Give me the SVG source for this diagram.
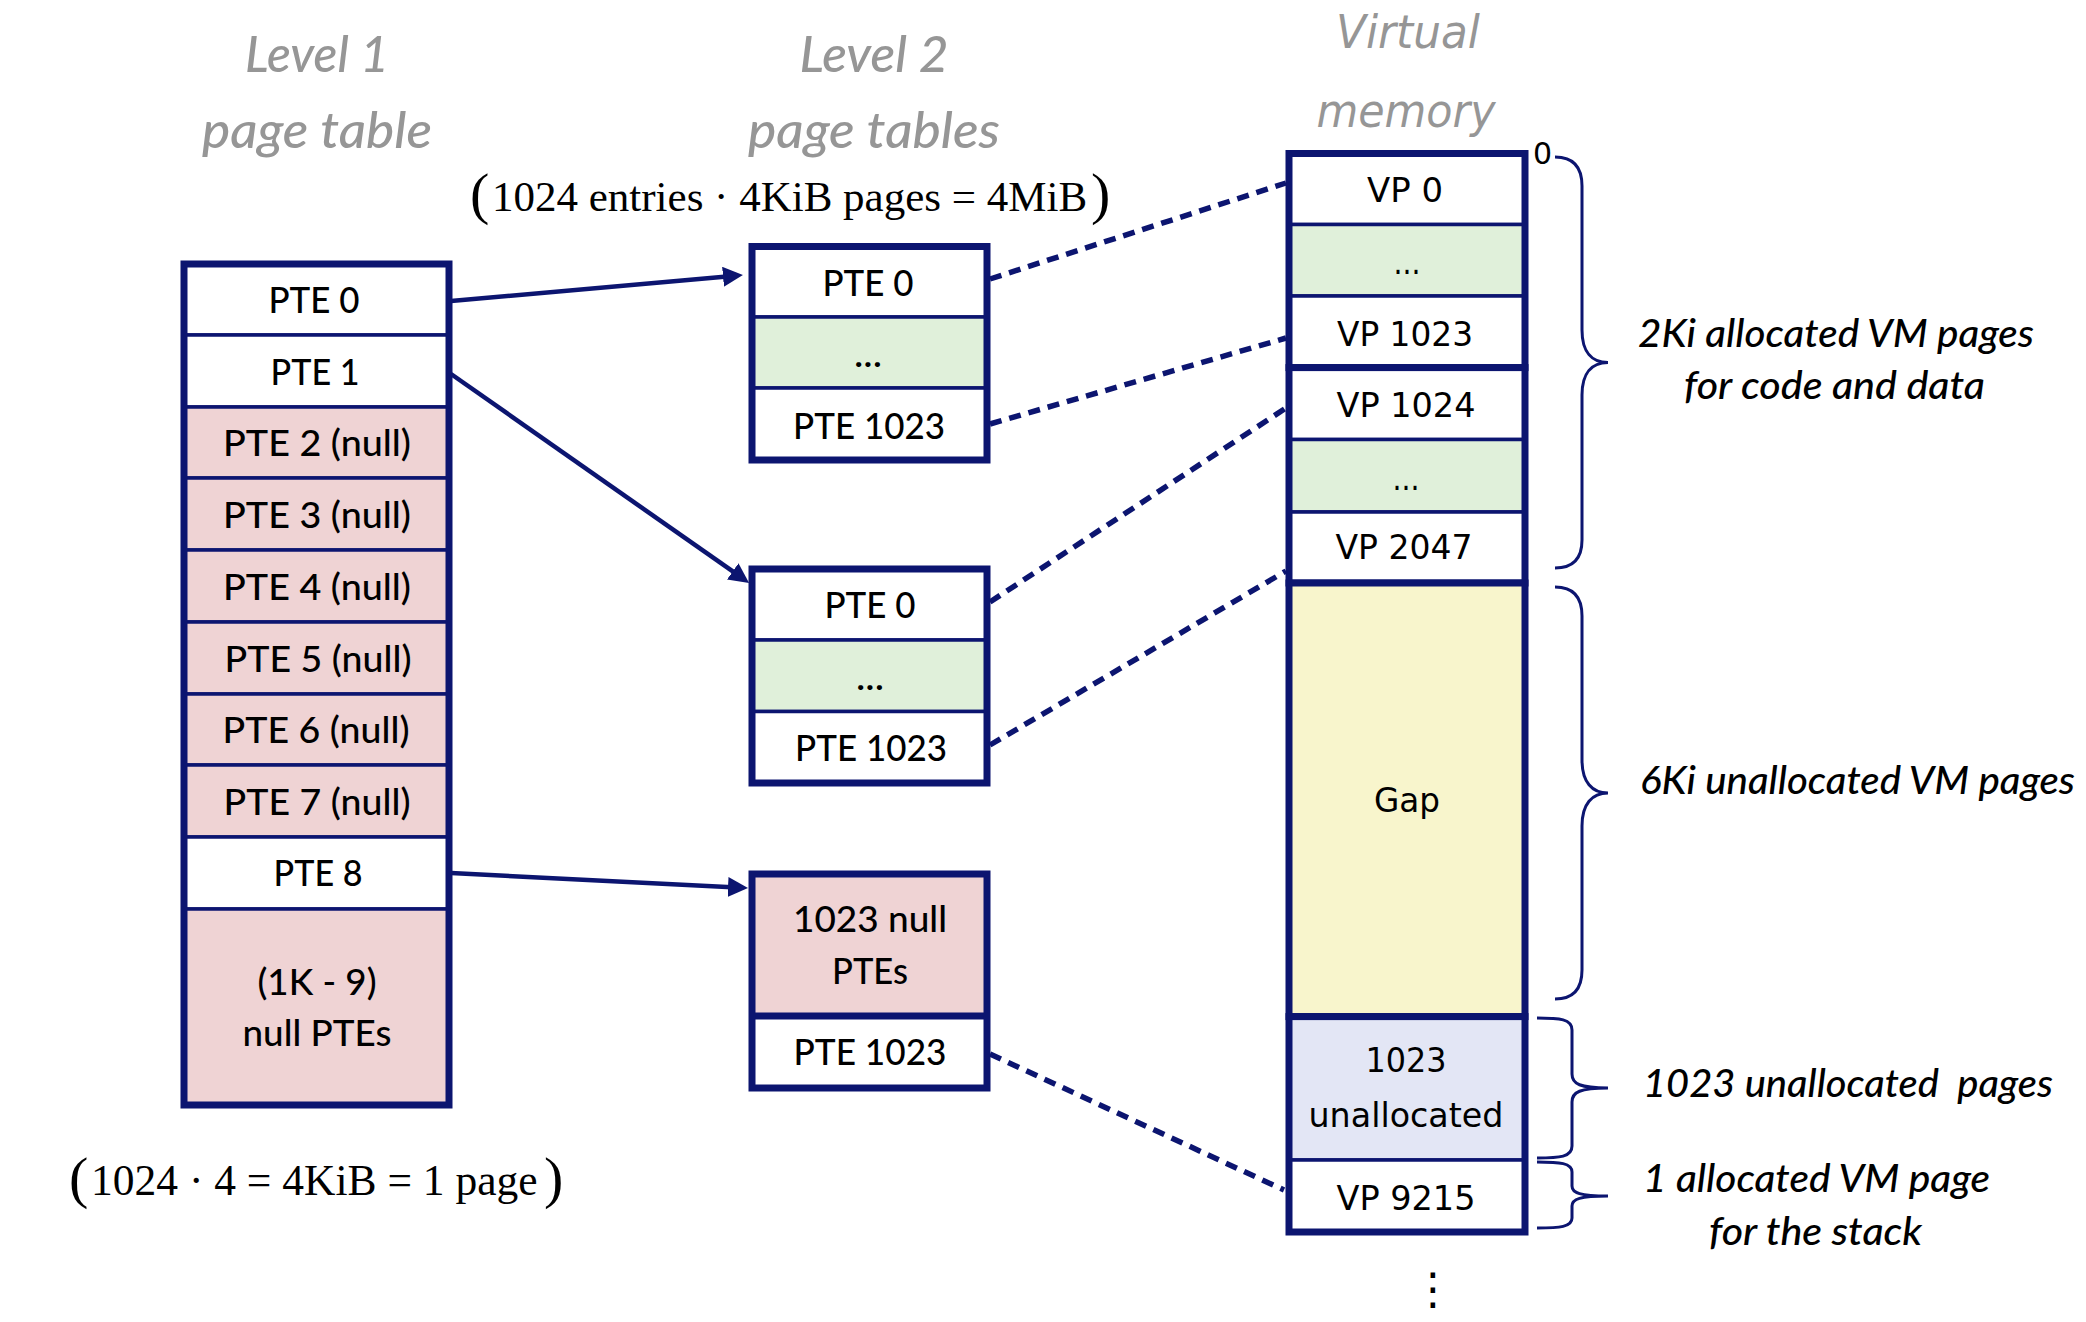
<svg xmlns="http://www.w3.org/2000/svg" width="2086" height="1322" viewBox="0 0 2086 1322">
<style>
.tb{fill:none;stroke:#0C1570;stroke-width:7}
.cell{stroke:#0C1570;stroke-width:3.5}
.w{fill:#FFFFFF}.p{fill:#EFD3D4}.g{fill:#E0F0DA}.y{fill:#F8F5CC}.l{fill:#E3E6F5}
.c{font-family:Lato,"Open Sans",sans-serif;font-weight:500;font-size:36px;text-anchor:middle;fill:#000}
.v{font-family:"DejaVu Sans",Verdana,sans-serif;font-size:34px;text-anchor:middle;fill:#000}
.t1{font-family:Lato,"Open Sans",sans-serif;font-weight:500;font-style:italic;font-size:50px;fill:#969696;text-anchor:middle}
.t2{font-family:"DejaVu Sans",Verdana,sans-serif;font-style:italic;font-size:46px;fill:#969696;text-anchor:middle}
.lab{font-family:Lato,"Open Sans",sans-serif;font-weight:500;font-style:italic;font-size:39px;fill:#000}
.m{font-family:"Liberation Serif","Times New Roman",serif;font-size:42.5px;fill:#000}
.pa{font-size:58px}
.br{fill:none;stroke:#0C1570;stroke-width:3}
.ar{stroke:#0C1570;stroke-width:4.5;fill:none}
.da{stroke:#0C1570;stroke-width:5.5;stroke-dasharray:12 8;fill:none}
</style>
<defs>
<marker id="ah" markerUnits="userSpaceOnUse" markerWidth="22" markerHeight="22" refX="4" refY="10" orient="auto">
<path d="M0,0 L20,10 L0,20 z" fill="#0C1570"/>
</marker>
</defs>

<g id="titles">
<text class="t1" x="317" y="72" textLength="144" lengthAdjust="spacingAndGlyphs">Level 1</text>
<text class="t1" x="317" y="148" textLength="230" lengthAdjust="spacingAndGlyphs">page table</text>
<text class="t1" x="874" y="72" textLength="149" lengthAdjust="spacingAndGlyphs">Level 2</text>
<text class="t1" x="874" y="148" textLength="252" lengthAdjust="spacingAndGlyphs">page tables</text>
<text class="t2" x="1408" y="48" textLength="144" lengthAdjust="spacingAndGlyphs">Virtual</text>
<text class="t2" x="1406" y="127" textLength="179" lengthAdjust="spacingAndGlyphs">memory</text>
</g>

<g id="formula-l2">
<text class="m" y="212"><tspan class="pa" x="470" y="213">(</tspan><tspan x="492" y="211" style="font-size:43px">1024 entries · 4KiB pages = 4MiB</tspan><tspan class="pa" x="1091" y="213">)</tspan></text>
</g>

<g id="formula-l1">
<text class="m" y="1196"><tspan class="pa" x="69" y="1197">(</tspan><tspan x="91" y="1195" style="font-size:43.5px">1024 · 4 = 4KiB = 1 page</tspan><tspan class="pa" x="544" y="1197">)</tspan></text>
</g>

<g id="l1-table">
<rect class="cell w" x="184" y="264" width="265" height="71"/>
<rect class="cell w" x="184" y="335" width="265" height="72"/>
<rect class="cell p" x="184" y="407" width="265" height="71"/>
<rect class="cell p" x="184" y="478" width="265" height="72"/>
<rect class="cell p" x="184" y="550" width="265" height="72"/>
<rect class="cell p" x="184" y="622" width="265" height="72"/>
<rect class="cell p" x="184" y="694" width="265" height="71"/>
<rect class="cell p" x="184" y="765" width="265" height="72"/>
<rect class="cell w" x="184" y="837" width="265" height="72"/>
<rect class="cell p" x="184" y="909" width="265" height="196"/>
<rect class="tb" x="184" y="264" width="265" height="841"/>
<text class="c" x="314" y="313" textLength="91" lengthAdjust="spacingAndGlyphs">PTE 0</text>
<text class="c" x="315" y="384.5" textLength="89" lengthAdjust="spacingAndGlyphs">PTE 1</text>
<text class="c" x="317" y="456" textLength="188" lengthAdjust="spacingAndGlyphs">PTE 2 (null)</text>
<text class="c" x="317" y="527.5" textLength="188" lengthAdjust="spacingAndGlyphs">PTE 3 (null)</text>
<text class="c" x="317" y="599.5" textLength="188" lengthAdjust="spacingAndGlyphs">PTE 4 (null)</text>
<text class="c" x="318" y="671.5" textLength="187" lengthAdjust="spacingAndGlyphs">PTE 5 (null)</text>
<text class="c" x="316" y="743" textLength="187" lengthAdjust="spacingAndGlyphs">PTE 6 (null)</text>
<text class="c" x="317" y="814.5" textLength="187" lengthAdjust="spacingAndGlyphs">PTE 7 (null)</text>
<text class="c" x="318" y="886" textLength="89" lengthAdjust="spacingAndGlyphs">PTE 8</text>
<text class="c" x="317" y="995" textLength="119" lengthAdjust="spacingAndGlyphs">(1K - 9)</text>
<text class="c" x="317" y="1046" textLength="149" lengthAdjust="spacingAndGlyphs">null PTEs</text>
</g>

<g id="l2-table-1">
<rect class="cell w" x="752" y="246.5" width="235" height="70.5"/>
<rect class="cell g" x="752" y="317" width="235" height="71"/>
<rect class="cell w" x="752" y="388" width="235" height="72"/>
<rect class="tb" x="752" y="246.5" width="235" height="213.5"/>
<text class="c" x="868" y="296" textLength="91" lengthAdjust="spacingAndGlyphs">PTE 0</text>
<text class="c" x="868" y="367" textLength="28" lengthAdjust="spacingAndGlyphs">...</text>
<text class="c" x="869" y="438.5" textLength="152" lengthAdjust="spacingAndGlyphs">PTE 1023</text>
</g>

<g id="l2-table-2">
<rect class="cell w" x="752" y="569" width="235" height="71"/>
<rect class="cell g" x="752" y="640" width="235" height="71.5"/>
<rect class="cell w" x="752" y="711.5" width="235" height="71.5"/>
<rect class="tb" x="752" y="569" width="235" height="214"/>
<text class="c" x="870" y="618" textLength="91" lengthAdjust="spacingAndGlyphs">PTE 0</text>
<text class="c" x="870" y="689.5" textLength="28" lengthAdjust="spacingAndGlyphs">...</text>
<text class="c" x="871" y="760.5" textLength="152" lengthAdjust="spacingAndGlyphs">PTE 1023</text>
</g>

<g id="l2-table-3">
<rect class="cell p" x="752" y="874" width="235" height="142"/>
<rect class="cell w" x="752" y="1016" width="235" height="72"/>
<line class="tb" x1="752" y1="1016" x2="987" y2="1016"/>
<rect class="tb" x="752" y="874" width="235" height="214"/>
<text class="c" x="870" y="931.5" textLength="154" lengthAdjust="spacingAndGlyphs">1023 null</text>
<text class="c" x="870" y="984" textLength="76" lengthAdjust="spacingAndGlyphs">PTEs</text>
<text class="c" x="870" y="1065" textLength="153" lengthAdjust="spacingAndGlyphs">PTE 1023</text>
</g>

<g id="vm-block-1">
<rect class="cell w" x="1289" y="153.5" width="236" height="71"/>
<rect class="cell g" x="1289" y="224.5" width="236" height="71.5"/>
<rect class="cell w" x="1289" y="296" width="236" height="71.6"/>
<rect class="tb" x="1289" y="153.5" width="236" height="214.1"/>
<text class="v" x="1405" y="202.4" textLength="76" lengthAdjust="spacingAndGlyphs">VP 0</text>
<text class="v" x="1407" y="274" textLength="27" lengthAdjust="spacingAndGlyphs">...</text>
<text class="v" x="1405" y="345.8" textLength="136" lengthAdjust="spacingAndGlyphs">VP 1023</text>
</g>

<g id="vm-block-2">
<rect class="cell w" x="1289" y="367.6" width="236" height="71.9"/>
<rect class="cell g" x="1289" y="439.5" width="236" height="72.5"/>
<rect class="cell w" x="1289" y="512" width="236" height="71"/>
<rect class="tb" x="1289" y="367.6" width="236" height="215.4"/>
<text class="v" x="1406" y="417" textLength="139" lengthAdjust="spacingAndGlyphs">VP 1024</text>
<text class="v" x="1406" y="490" textLength="27" lengthAdjust="spacingAndGlyphs">...</text>
<text class="v" x="1404" y="559" textLength="137" lengthAdjust="spacingAndGlyphs">VP 2047</text>
</g>

<g id="vm-gap">
<rect class="y" x="1289" y="583" width="236" height="433.6"/>
<rect class="tb" x="1289" y="583" width="236" height="433.6"/>
<text class="v" x="1407" y="812" textLength="66" lengthAdjust="spacingAndGlyphs">Gap</text>
</g>

<g id="vm-block-3">
<rect class="cell l" x="1289" y="1016.6" width="236" height="143.4"/>
<rect class="cell w" x="1289" y="1160" width="236" height="72"/>
<rect class="tb" x="1289" y="1016.6" width="236" height="215.4"/>
<text class="v" x="1406" y="1072" textLength="81" lengthAdjust="spacingAndGlyphs">1023</text>
<text class="v" x="1406" y="1126.6" textLength="195" lengthAdjust="spacingAndGlyphs">unallocated</text>
<text class="v" x="1406" y="1209.5" textLength="139" lengthAdjust="spacingAndGlyphs">VP 9215</text>
</g>

<g id="vm-extra">
<text class="v" x="1533" y="164" style="font-size:30px;text-anchor:start">0</text>
<text class="v" x="1433" y="1304" style="font-size:44px">⋮</text>
</g>

<g id="connectors">
<line class="ar" x1="451" y1="301" x2="727" y2="276.4" marker-end="url(#ah)"/>
<line class="ar" x1="451" y1="374" x2="736" y2="573.7" marker-end="url(#ah)"/>
<line class="ar" x1="451" y1="873" x2="732" y2="887.2" marker-end="url(#ah)"/>
<line class="da" x1="990" y1="279" x2="1286" y2="183"/>
<line class="da" x1="990" y1="424" x2="1286" y2="338"/>
<line class="da" x1="990" y1="602" x2="1286" y2="408"/>
<line class="da" x1="990" y1="745" x2="1286" y2="571"/>
<line class="da" x1="990" y1="1054" x2="1284" y2="1190"/>
</g>

<g id="braces">
<path class="br" d="M1555,157 C1572,157 1582,166 1582,186 L1582,330 C1582,352 1592,362.5 1608,362.5 C1592,362.5 1582,373 1582,395 L1582,540 C1582,560 1572,568 1555,568"/>
<path class="br" d="M1555,587 C1572,587 1582,596 1582,616 L1582,760 C1582,782 1592,793 1608,793 C1592,793 1582,804 1582,826 L1582,970 C1582,990 1572,999 1555,999"/>
<path class="br" d="M1537,1018 C1560,1018 1572,1019 1572,1030 L1572,1074 C1572,1084 1580,1088 1608,1088 C1580,1088 1572,1092 1572,1102 L1572,1146 C1572,1157 1560,1158 1537,1158"/>
<path class="br" d="M1537,1162 C1560,1162 1572,1163 1572,1172 L1572,1186 C1572,1193 1580,1196 1608,1196 C1580,1196 1572,1199 1572,1206 L1572,1218 C1572,1227 1560,1228 1537,1228"/>
</g>

<g id="labels">
<text class="lab" x="1638" y="347" textLength="396" lengthAdjust="spacingAndGlyphs">2Ki allocated VM pages</text>
<text class="lab" x="1684" y="399" textLength="301" lengthAdjust="spacingAndGlyphs">for code and data</text>
<text class="lab" x="1640" y="794" textLength="435" lengthAdjust="spacingAndGlyphs">6Ki unallocated VM pages</text>
<text class="lab" x="1643" y="1097" textLength="410" lengthAdjust="spacingAndGlyphs" xml:space="preserve">1023 unallocated  pages</text>
<text class="lab" x="1643" y="1192" textLength="347" lengthAdjust="spacingAndGlyphs">1 allocated VM page</text>
<text class="lab" x="1709" y="1245" textLength="213" lengthAdjust="spacingAndGlyphs">for the stack</text>
</g>
</svg>
